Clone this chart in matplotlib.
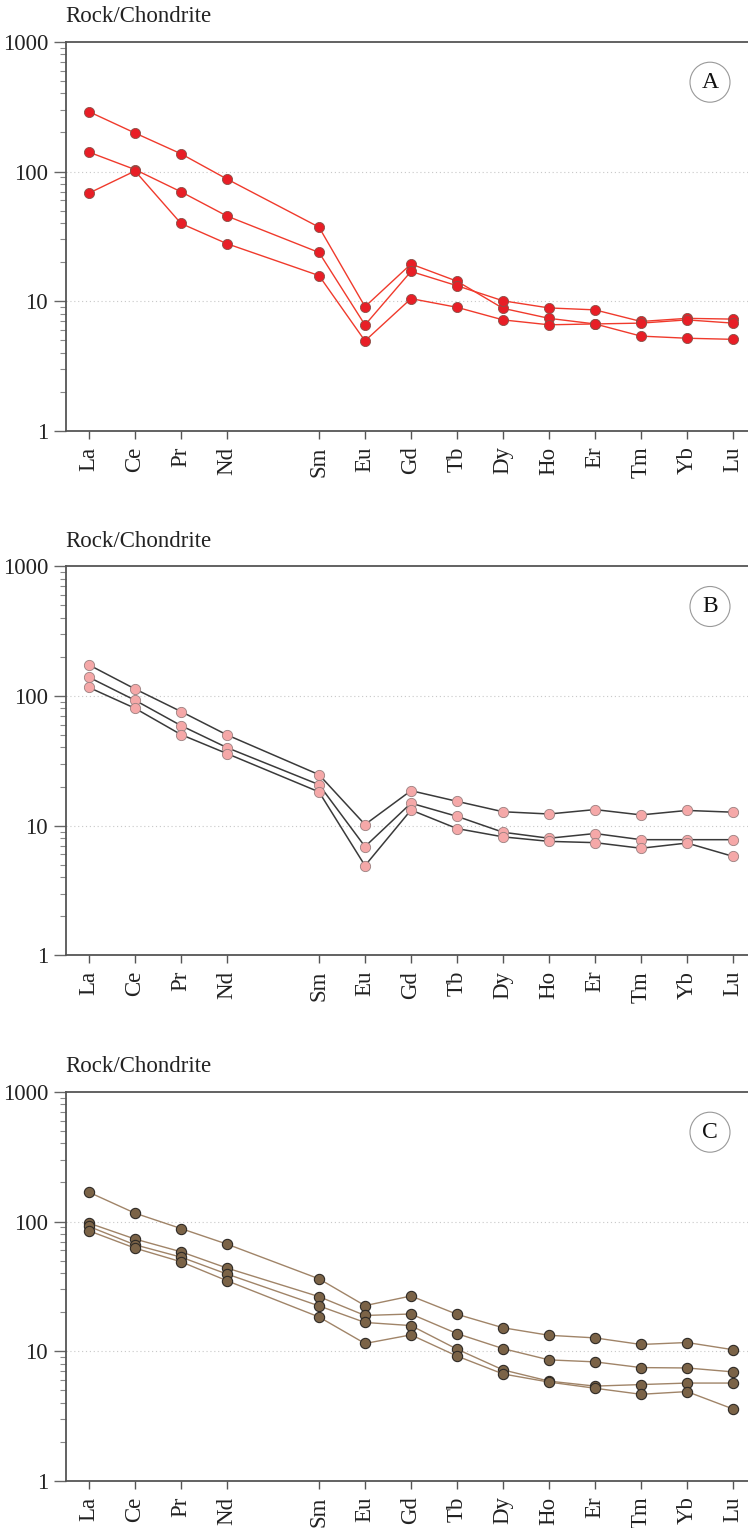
import matplotlib
matplotlib.use("Agg")
import matplotlib.pyplot as plt
from matplotlib.patches import Ellipse
import numpy as np

plt.rcParams['font.family'] = ['Liberation Serif', 'DejaVu Serif']

elements = ["La", "Ce", "Pr", "Nd", "Sm", "Eu", "Gd", "Tb", "Dy", "Ho", "Er", "Tm", "Yb", "Lu"]
# Pm gap between Nd and Sm
xpos = [0, 1, 2, 3, 5, 6, 7, 8, 9, 10, 11, 12, 13, 14]

# Panel A
A1 = [289, 198, 137, 87.5, 37.3, 9.1, 19.4, 14.3, 8.84, 7.4, 6.7, 5.4, 5.2, 5.1]
A2 = [141, 103.6, 69.8, 45.4, 23.8, 6.58, 17.0, 13.2, 10.1, 8.9, 8.6, 7.0, 7.4, 7.3]
A3 = [68.2, 101, 39.8, 27.8, 15.8, 4.96, 10.5, 9.0, 7.2, 6.6, 6.7, 6.8, 7.2, 6.8]

# Panel B
B1 = [173, 113, 75.7, 50, 24.7, 10.2, 18.6, 15.4, 12.8, 12.3, 13.3, 12.1, 13.1, 12.7]
B2 = [139, 92.5, 59, 39.9, 20.7, 6.9, 14.9, 11.8, 8.9, 8.0, 8.7, 7.8, 7.8, 7.8]
B3 = [116, 80.2, 50.3, 35.9, 18.2, 4.92, 13.2, 9.5, 8.2, 7.57, 7.4, 6.7, 7.35, 5.8]

# Panel C
C1 = [168, 116, 88.3, 67, 36.2, 22.5, 26.7, 19.3, 15.2, 13.3, 12.7, 11.3, 11.7, 10.3]
C2 = [97.2, 73.3, 58.5, 43.8, 26.4, 18.9, 19.4, 13.7, 10.5, 8.6, 8.3, 7.5, 7.45, 6.95]
C3 = [91.6, 66.2, 53.2, 39.4, 22.4, 16.7, 15.8, 10.4, 7.2, 5.9, 5.4, 5.55, 5.7, 5.7]
C4 = [84.8, 62.4, 49.0, 35.0, 18.4, 11.5, 13.4, 9.2, 6.7, 5.8, 5.2, 4.67, 4.9, 3.6]

panels = [
    ("A", [A1, A2, A3], dict(color="#f03a2c", lw=1.0),
     dict(mfc="#e81e26", mec="#8a5048", ms=7.3, mew=0.6)),
    ("B", [B1, B2, B3], dict(color="#3a3a3a", lw=1.1),
     dict(mfc="#f5a8a8", mec="#9a8080", ms=7.4, mew=0.6)),
    ("C", [C1, C2, C3, C4], dict(color="#a08468", lw=1.0),
     dict(mfc="#7b6347", mec="#2e2a26", ms=7.4, mew=0.8)),
]

W, H = 748, 1528
fig = plt.figure(figsize=(W / 100, H / 100), dpi=100)

tops = [41.7, 566.0, 1091.7]
ax_h = 389.5
left_px = 66.0
unit = 46.0
ax_w = 15 * unit

for (label, series, lstyle, mstyle), top in zip(panels, tops):
    ax = fig.add_axes([left_px / W, 1 - (top + ax_h) / H, ax_w / W, ax_h / H])
    for s in series:
        ax.plot(xpos, s, marker="o", zorder=3, **lstyle, **mstyle)
    ax.set_yscale("log")
    ax.set_ylim(1, 1000)
    ax.set_xlim(-0.5, 14.5)
    ax.set_xticks(xpos)
    ax.set_xticklabels(elements, rotation=90, fontsize=16.5, color="#222222")
    ax.set_yticks([1, 10, 100, 1000])
    ax.set_yticklabels(["1", "10", "100", "1000"], fontsize=16.5, color="#222222")
    ax.tick_params(axis="y", which="major", length=9, width=1.0, color="#666666", pad=4)
    ax.tick_params(axis="y", which="minor", length=4.5, width=0.8, color="#888888")
    ax.tick_params(axis="x", which="major", length=6, width=1.0, color="#555555", pad=5)
    ax.tick_params(axis="x", which="minor", bottom=False)
    for sp in ["left", "top", "bottom", "right"]:
        ax.spines[sp].set_color("#555555")
        ax.spines[sp].set_linewidth(1.3)
    for yv in [10, 100]:
        ax.axhline(yv, color="#c8c8c8", lw=0.8, ls=(0, (1, 2.5)), zorder=1)
    # panel letter in circle
    cx = (710 - left_px) / unit - 0.5
    circ_y_frac = 1 - 40.5 / ax_h
    ax.add_patch(Ellipse((cx, circ_y_frac), width=40 / unit, height=40 / ax_h,
                         transform=ax.get_xaxis_transform(), fill=False,
                         ec="#999999", lw=0.8, zorder=4))
    ax.text(cx, circ_y_frac, label, transform=ax.get_xaxis_transform(),
            ha="center", va="center", fontsize=17, color="#111111", zorder=5)
    fig.text(65 / W, 1 - (top - 19.5) / H, "Rock/Chondrite", ha="left",
             va="baseline", fontsize=16.5, color="#222222")

fig.savefig("out.png", dpi=100)
